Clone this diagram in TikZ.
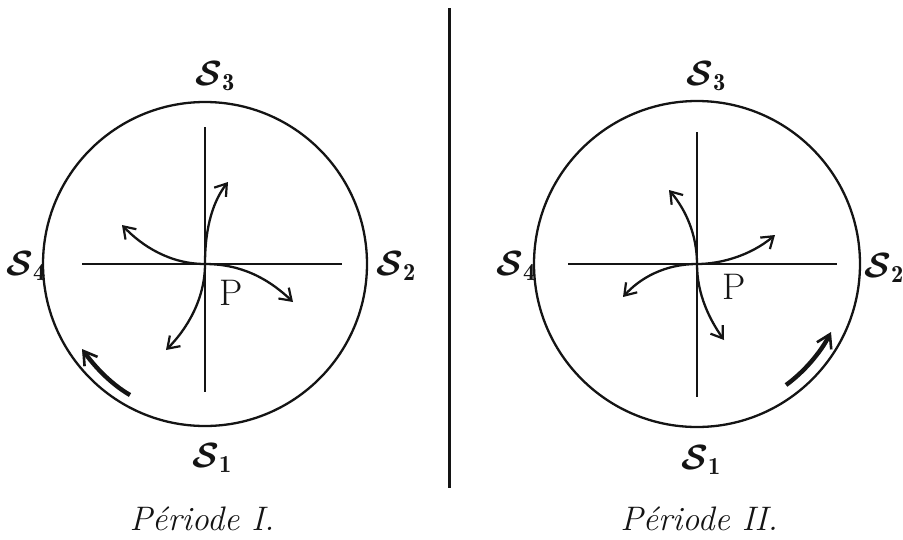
\RequirePackage{fix-cm}
\documentclass[tikz,border=0pt]{standalone}
\usepackage{amsmath}
\usepackage{fontspec}
\usepackage{tikz}
\usetikzlibrary{arrows.meta, positioning, calc}
\definecolor{ink}{RGB}{20,20,20}
\tikzset{
  rim/.style={draw=ink, line width=2.3pt},
  axis/.style={draw=ink, line width=2.3pt},
  flow/.style={-{Straight Barb[length=11pt,width=15pt,line width=2.2pt]}, draw=ink, line width=2.3pt},
  spin/.style={-{Straight Barb[length=13pt,width=16pt,line width=2.6pt]}, draw=ink, line width=4.4pt},
  pole/.style={font=\fontsize{35}{38}\selectfont, text=ink, inner sep=0pt},
  ptlabel/.style={font=\fontsize{37}{40}\selectfont, text=ink, inner sep=0pt},
  caption/.style={font=\fontsize{34}{37}\selectfont\itshape, text=ink, inner sep=0pt, anchor=base}
}
\newcommand{\pol}[1]{$\boldsymbol{\mathcal{S}}_{\mathbf{#1}}$}

\begin{document}
\begin{tikzpicture}[x=1pt, y=-1pt]
  \useasboundingbox (0,0) rectangle (903,539);

  % --- Periode I ---
  \coordinate (oL) at (205,264);
  \draw[rim] (oL) circle[radius=162];
  \draw[axis] (82,264) -- (342,264);
  \draw[axis] (205,127) -- (205,392);

  \node[pole] (s3L) at (215,76) {\pol{3}};
  \node[pole] (s4L) at (26,266) {\pol{4}};
  \node[pole] (s2L) at (396,266) {\pol{2}};
  \node[pole] (s1L) at (212,458) {\pol{1}};
  \node[ptlabel] (pL) at (231,293) {P};

  \coordinate (aL1) at (228,182);
  \coordinate (aL2) at (122,225);
  \coordinate (aL3) at (293,302);
  \coordinate (aL4) at (166,350);
  \draw[flow] (oL) .. controls (205,225) and (214,200) .. (aL1);
  \draw[flow] (oL) .. controls (170,264) and (142,246) .. (aL2);
  \draw[flow] (oL) .. controls (245,264) and (272,282) .. (aL3);
  \draw[flow] (oL) .. controls (205,300) and (186,330) .. (aL4);

  \coordinate (bL0) at (130,395);
  \coordinate (bL1) at (82,349);
  \draw[spin] (bL0) .. controls (111,384) and (95,367) .. (bL1);

  \node[caption] (capL) at (202,530) {Période I.};

  % --- separation ---
  \coordinate (topSep) at (449,8);
  \coordinate (botSep) at (449,488);
  \draw[draw=ink, line width=3pt] (topSep) -- (botSep);

  % --- Periode II ---
  \coordinate (oR) at (697,264);
  \draw[rim] (oR) circle[radius=163];
  \draw[axis] (568,264) -- (837,264);
  \draw[axis] (697,132) -- (697,397);

  \node[pole] (s3R) at (706,76) {\pol{3}};
  \node[pole] (s4R) at (516,266) {\pol{4}};
  \node[pole] (s2R) at (884,268) {\pol{2}};
  \node[pole] (s1R) at (701,460) {\pol{1}};
  \node[ptlabel] (pR) at (734,287) {P};

  \coordinate (aR1) at (669,190);
  \coordinate (aR2) at (775,235);
  \coordinate (aR3) at (623,297);
  \coordinate (aR4) at (724,340);
  \draw[flow] (oR) .. controls (697,235) and (686,210) .. (aR1);
  \draw[flow] (oR) .. controls (720,264) and (750,256) .. (aR2);
  \draw[flow] (oR) .. controls (665,264) and (640,278) .. (aR3);
  \draw[flow] (oR) .. controls (697,295) and (710,320) .. (aR4);

  \coordinate (bR0) at (786,385);
  \coordinate (bR1) at (831,332);
  \draw[spin] (bR0) .. controls (804,372) and (821,352) .. (bR1);

  \node[caption] (capR) at (699,530) {Période II.};
\end{tikzpicture}
\end{document}
